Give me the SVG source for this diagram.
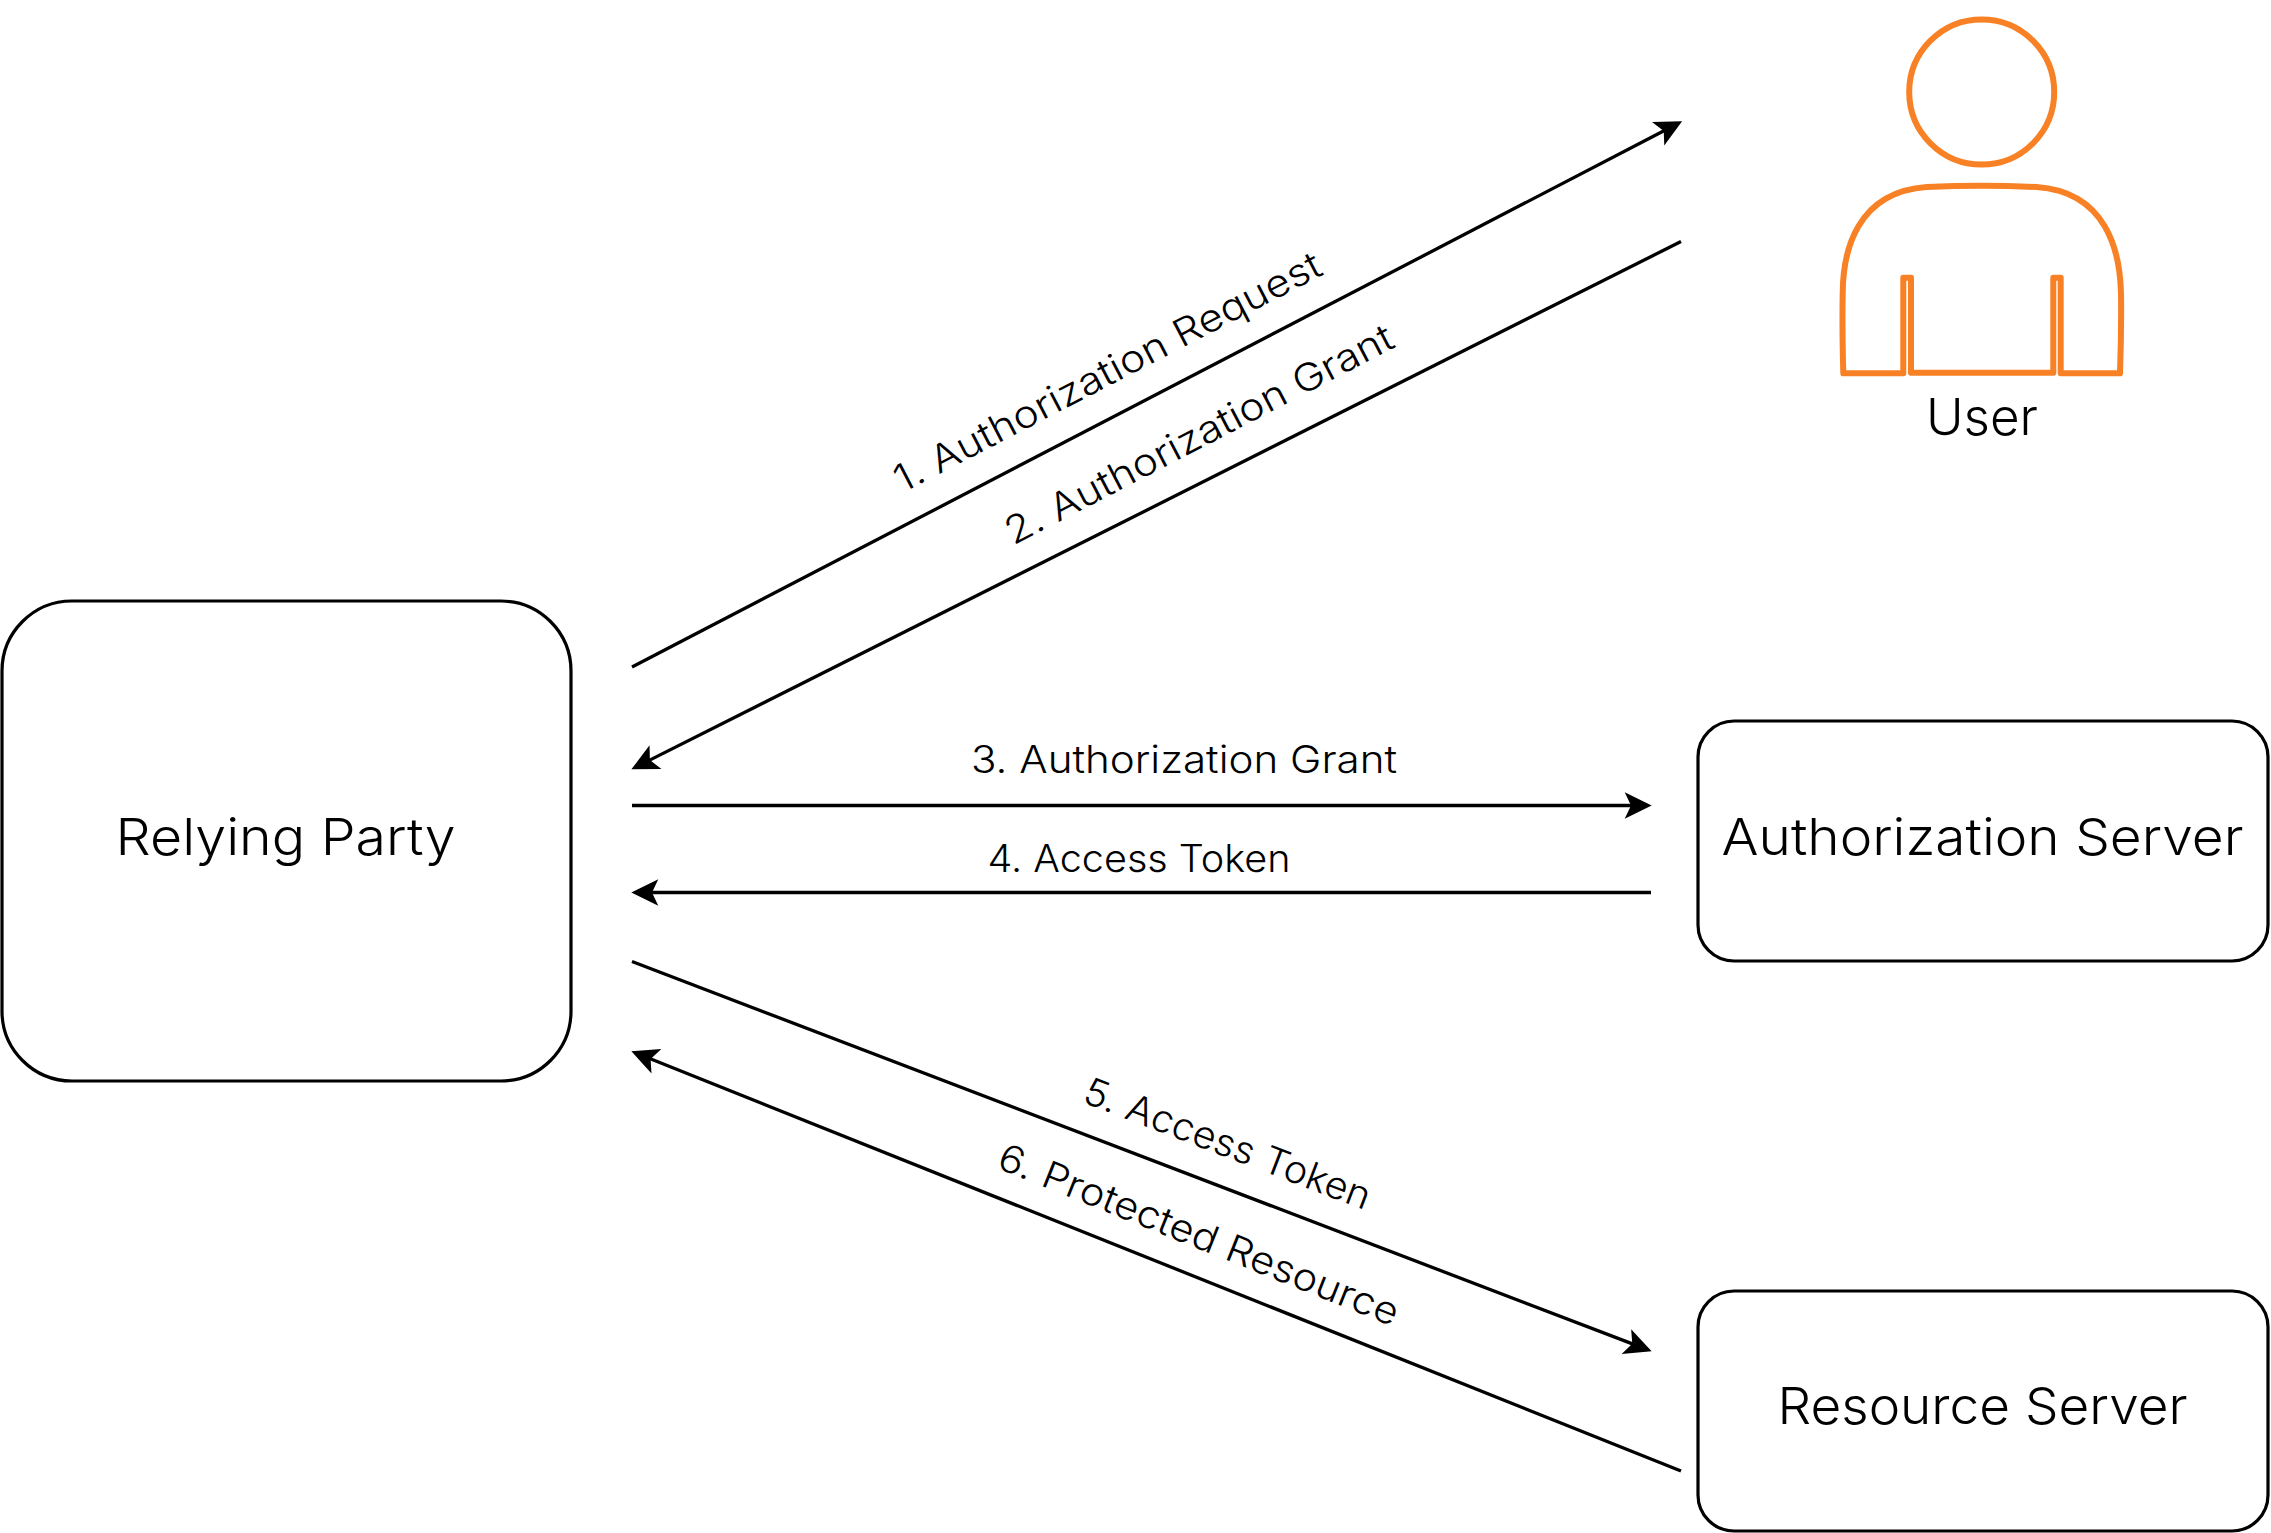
<svg xmlns="http://www.w3.org/2000/svg" width="2271" height="1533" viewBox="0 0 2271 1533">
<style>
text{font-family:"Inter","Noto Sans","Liberation Sans",sans-serif;font-weight:300;fill:#000;text-anchor:middle}
.n{font-size:51px}
.l{font-size:38px}
.b{fill:#fff;stroke:#000;stroke-width:3.2}
.c line{stroke:#000;stroke-width:3.3;marker-end:url(#a)}
.u{fill:none;stroke:#f98125;stroke-width:6;stroke-linejoin:round}
</style>
<defs><marker id="a" markerUnits="userSpaceOnUse" markerWidth="40" markerHeight="40" refX="10" refY="20" orient="auto" overflow="visible"><path d="M0.700 6.700L27.700 20L0.700 33.300L7 20Z" fill="#000"/></marker></defs>
<rect width="2271" height="1533" fill="#fff"/>
<g id="relying-party"><rect class="b" x="2" y="601" width="569" height="480" rx="70"/><text class="n" x="285.500" y="855" textLength="340" lengthAdjust="spacingAndGlyphs">Relying Party</text></g>
<g id="authorization-server"><rect class="b" x="1698" y="721" width="570" height="240" rx="36"/><text class="n" x="1982.500" y="855" textLength="522" lengthAdjust="spacingAndGlyphs">Authorization Server</text></g>
<g id="resource-server"><rect class="b" x="1698" y="1291" width="570" height="240" rx="36"/><text class="n" x="1982.500" y="1424" textLength="410" lengthAdjust="spacingAndGlyphs">Resource Server</text></g>
<g id="user"><circle class="u" cx="1981.700" cy="92" r="72.500"/><path class="u" d="M1843.300 373.300C1842.500 345 1842.300 315 1842.700 293C1843 252 1856 192 1926.700 187C1960 185.500 2003 185.500 2036.700 187C2107 192 2120 252 2121 293C2121.300 315 2121 345 2120 373.300H2060.700V277.700H2053.300V372.700H1911V277.700H1903.300V373.300Z"/><text class="n" x="1982" y="435" textLength="112" lengthAdjust="spacingAndGlyphs">User</text></g>
<g id="connectors" class="c">
<line x1="632" y1="667" x2="1666.400" y2="129.500"/>
<line x1="1681" y1="241.500" x2="647.200" y2="761.400"/>
<line x1="632" y1="805.500" x2="1634" y2="805.500"/>
<line x1="1651" y1="892.500" x2="649" y2="892.500"/>
<line x1="632" y1="961.500" x2="1635.100" y2="1344.900"/>
<line x1="1681" y1="1471" x2="647.800" y2="1057.800"/>
</g>
<g id="labels">
<text class="l" transform="translate(1113.500 383.500) rotate(-27.450)" textLength="476" lengthAdjust="spacingAndGlyphs">1. Authorization Request</text>
<text class="l" transform="translate(1205 446) rotate(-27.450)" textLength="432" lengthAdjust="spacingAndGlyphs">2. Authorization Grant</text>
<text class="l" x="1184" y="773" textLength="426" lengthAdjust="spacingAndGlyphs">3. Authorization Grant</text>
<text class="l" x="1139" y="872" textLength="303" lengthAdjust="spacingAndGlyphs">4. Access Token</text>
<text class="l" transform="translate(1223 1156) rotate(20.900)" textLength="304" lengthAdjust="spacingAndGlyphs">5. Access Token</text>
<text class="l" transform="translate(1194 1247) rotate(21.800)" textLength="428" lengthAdjust="spacingAndGlyphs">6. Protected Resource</text>
</g>
</svg>
